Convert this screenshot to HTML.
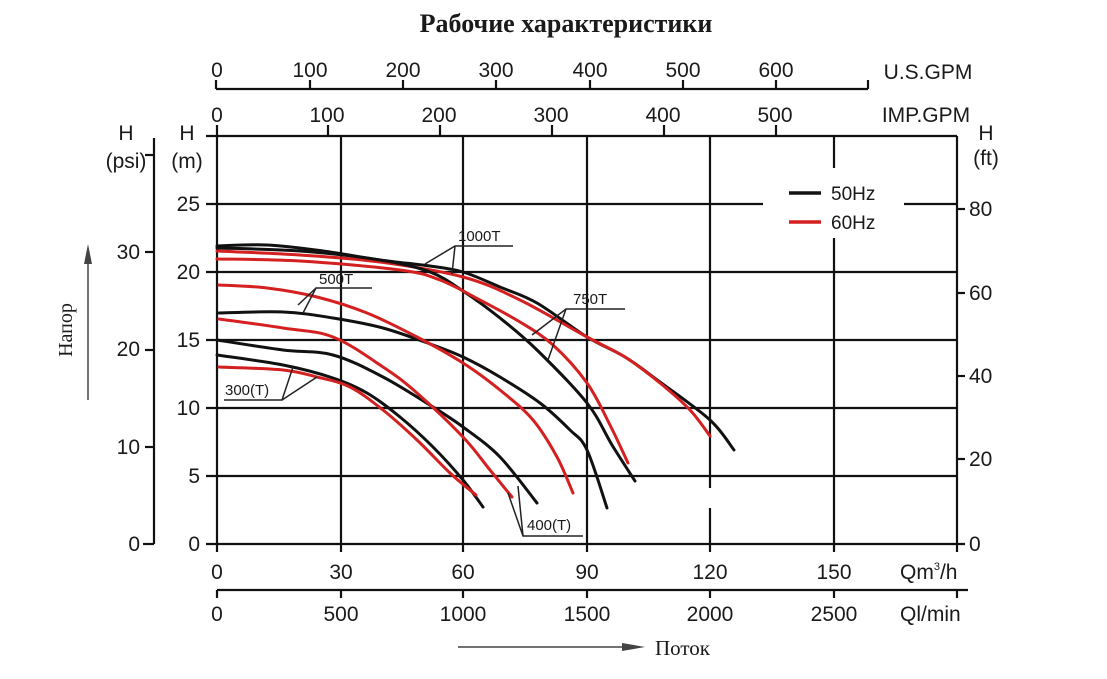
<!DOCTYPE html>
<html><head><meta charset="utf-8"><style>
html,body{margin:0;padding:0;background:#fff;}
svg{display:block;}
text{font-family:"Liberation Sans",Arial,sans-serif;fill:#1a1a1a;}
.s{font-family:"Liberation Serif","DejaVu Serif",serif;}
</style></head><body>
<svg id="sv" width="1107" height="679" viewBox="0 0 1107 679" xmlns="http://www.w3.org/2000/svg">
<text class="s" x="566" y="32" font-size="26" font-weight="bold" text-anchor="middle">Рабочие характеристики</text>

<g stroke="#111" stroke-width="2.2" fill="none">
<line x1="216" y1="89" x2="868" y2="89"/>
<line x1="216" y1="80" x2="216" y2="89"/><line x1="310" y1="80" x2="310" y2="89"/><line x1="403" y1="80" x2="403" y2="89"/><line x1="496" y1="80" x2="496" y2="89"/><line x1="590" y1="80" x2="590" y2="89"/><line x1="683" y1="80" x2="683" y2="89"/><line x1="776" y1="80" x2="776" y2="89"/><line x1="868" y1="80" x2="868" y2="89"/>
</g>
<g font-size="21" text-anchor="middle">
<text x="217" y="77">0</text><text x="310" y="77">100</text><text x="403" y="77">200</text><text x="496" y="77">300</text><text x="590" y="77">400</text><text x="683" y="77">500</text><text x="776" y="77">600</text>
<text x="327" y="122">100</text><text x="439" y="122">200</text><text x="551" y="122">300</text><text x="663" y="122">400</text><text x="775" y="122">500</text><text x="217" y="122">0</text>
</g>
<text x="928" y="79" font-size="21" text-anchor="middle">U.S.GPM</text>
<text x="926" y="122" font-size="21" text-anchor="middle">IMP.GPM</text>
<text x="986" y="140" font-size="21" text-anchor="middle">H</text>
<text x="986" y="165" font-size="21" text-anchor="middle">(ft)</text>
<text x="126" y="140" font-size="21" text-anchor="middle">H</text>
<text x="126" y="168" font-size="21" text-anchor="middle">(psi)</text>
<text x="187" y="140" font-size="21" text-anchor="middle">H</text>
<text x="187" y="168" font-size="21" text-anchor="middle">(m)</text>

<g stroke="#111" stroke-width="2.2" fill="none">
<line x1="206" y1="136" x2="957" y2="136"/>
<line x1="217" y1="125" x2="217" y2="136"/><line x1="328" y1="125" x2="328" y2="136"/><line x1="440" y1="125" x2="440" y2="136"/><line x1="552" y1="125" x2="552" y2="136"/><line x1="664" y1="125" x2="664" y2="136"/><line x1="776" y1="125" x2="776" y2="136"/>
<line x1="217" y1="136" x2="217" y2="552"/>
<line x1="341" y1="136" x2="341" y2="552"/>
<line x1="463" y1="136" x2="463" y2="552"/>
<line x1="587" y1="136" x2="587" y2="552"/>
<line x1="710" y1="136" x2="710" y2="488"/><line x1="710" y1="508" x2="710" y2="552"/>
<line x1="834" y1="136" x2="834" y2="168"/><line x1="834" y1="238" x2="834" y2="552"/>
<line x1="957" y1="136" x2="957" y2="552"/>
<line x1="206" y1="204" x2="763" y2="204"/><line x1="904" y1="204" x2="957" y2="204"/>
<line x1="206" y1="272" x2="957" y2="272"/>
<line x1="206" y1="340" x2="957" y2="340"/>
<line x1="206" y1="408" x2="957" y2="408"/>
<line x1="206" y1="476" x2="957" y2="476"/>
<line x1="206" y1="544" x2="965" y2="544"/>
<line x1="957" y1="209" x2="965" y2="209"/><line x1="957" y1="293" x2="965" y2="293"/><line x1="957" y1="376" x2="965" y2="376"/><line x1="957" y1="459" x2="965" y2="459"/>
<line x1="154" y1="138" x2="154" y2="544"/>
<line x1="143" y1="544" x2="154" y2="544"/><line x1="145" y1="447" x2="154" y2="447"/><line x1="145" y1="350" x2="154" y2="350"/><line x1="145" y1="252" x2="154" y2="252"/><line x1="145" y1="155" x2="154" y2="155"/>
<line x1="217" y1="590" x2="968" y2="590"/>
<line x1="217" y1="590" x2="217" y2="598"/><line x1="341" y1="590" x2="341" y2="598"/><line x1="463" y1="590" x2="463" y2="598"/><line x1="587" y1="590" x2="587" y2="598"/><line x1="710" y1="590" x2="710" y2="598"/><line x1="834" y1="590" x2="834" y2="598"/><line x1="957" y1="590" x2="957" y2="598"/>
</g>
<g font-size="21" text-anchor="end">
<text x="200" y="211">25</text><text x="200" y="279">20</text><text x="200" y="347">15</text><text x="200" y="415">10</text><text x="200" y="483">5</text><text x="200" y="551">0</text>
<text x="140" y="259">30</text><text x="140" y="356">20</text><text x="140" y="454">10</text><text x="140" y="551">0</text>
</g>
<g font-size="21">
<text x="969" y="216">80</text><text x="969" y="300">60</text><text x="969" y="383">40</text><text x="969" y="466">20</text><text x="969" y="551">0</text>
</g>
<g font-size="21" text-anchor="middle">
<text x="217" y="579">0</text><text x="341" y="579">30</text><text x="463" y="579">60</text><text x="587" y="579">90</text><text x="710" y="579">120</text><text x="834" y="579">150</text>
<text x="217" y="621">0</text><text x="341" y="621">500</text><text x="463" y="621">1000</text><text x="587" y="621">1500</text><text x="710" y="621">2000</text><text x="834" y="621">2500</text>
</g>
<text x="900" y="579" font-size="21">Qm<tspan font-size="11" dy="-9">3</tspan><tspan dy="9">/h</tspan></text>
<text x="900" y="621" font-size="21">Ql/min</text>

<line x1="789" y1="193" x2="821" y2="193" stroke="#111" stroke-width="3.5"/>
<line x1="789" y1="222" x2="821" y2="222" stroke="#d42020" stroke-width="3.5"/>
<text x="831" y="200" font-size="19">50Hz</text>
<text x="831" y="229" font-size="19">60Hz</text>

<g id="curves" fill="none" stroke-width="3" stroke-linecap="round" stroke-linejoin="round">
<path stroke="#111" data-p="217,246 267,245 323,251 380,260 430,266 463,272 500,287 537,303 587,337 625,357 660,382 710,420 734,450"/>
<path stroke="#d42020" data-p="217,251 300,255 380,262 463,277 520,300 587,337 625,357 660,383 690,410 710,436"/>
<path stroke="#111" data-p="217,248 300,251 380,260 430,272 463,291 500,318 537,350 587,403 612,445 635,481"/>
<path stroke="#d42020" data-p="217,259 300,261 400,270 440,280 480,300 520,322 553,345 587,383 610,425 628,463"/>
<path stroke="#111" data-p="219,313 283,312 333,318 383,328 433,345 463,357 500,377 540,403 570,430 587,450 607,508"/>
<path stroke="#d42020" data-p="219,285 267,288 317,297 367,313 417,337 463,363 500,390 533,420 557,457 573,493"/>
<path stroke="#111" data-p="217,340 283,350 333,355 383,377 433,407 463,427 500,457 537,503"/>
<path stroke="#d42020" data-p="219,319 283,328 333,337 383,367 417,393 463,437 490,470 512,497"/>
<path stroke="#111" data-p="217,355 283,365 333,378 367,393 400,417 433,447 463,480 483,507"/>
<path stroke="#d42020" data-p="219,367 283,370 317,377 350,387 383,410 417,440 450,473 476,495"/>
</g>

<g stroke="#222" stroke-width="1.5" fill="none">
<polyline points="513,246 455,246 425,264"/><line x1="455" y1="246" x2="452" y2="274"/>
<polyline points="372,288 316,288 303,313"/><line x1="316" y1="288" x2="298" y2="305"/>
<polyline points="625,309 566,309 532,335"/><line x1="566" y1="309" x2="548" y2="360"/>
<polyline points="224,400 282,400 293,367"/><line x1="282" y1="400" x2="317" y2="377"/>
<polyline points="583,536 523,536 508,493"/><line x1="523" y1="536" x2="518" y2="486"/>
</g>
<g font-size="15">
<text x="458" y="241">1000T</text>
<text x="319" y="284">500T</text>
<text x="573" y="304">750T</text>
<text x="225" y="395">300(T)</text>
<text x="527" y="530">400(T)</text>
</g>

<text class="s" x="72" y="330" font-size="20" text-anchor="middle" transform="rotate(-90 72 330)">Напор</text>
<line x1="88" y1="400" x2="88" y2="262" stroke="#444" stroke-width="1.5"/>
<polygon points="88,244 84,264 92,264" fill="#444"/>
<line x1="458" y1="647" x2="630" y2="647" stroke="#444" stroke-width="1.5"/>
<polygon points="645,647 622,643 622,651" fill="#444"/>
<text class="s" x="655" y="655" font-size="21">Поток</text>
</svg>
<script>
document.querySelectorAll('#curves path').forEach(function(p){
  var pts=p.getAttribute('data-p').split(' ').map(function(s){return s.split(',').map(Number);});
  var d='M'+pts[0][0]+','+pts[0][1];
  for(var i=0;i<pts.length-1;i++){
    var p0=pts[i-1]||pts[i],p1=pts[i],p2=pts[i+1],p3=pts[i+2]||p2;
    var c1x=p1[0]+(p2[0]-p0[0])/6,c1y=p1[1]+(p2[1]-p0[1])/6;
    var c2x=p2[0]-(p3[0]-p1[0])/6,c2y=p2[1]-(p3[1]-p1[1])/6;
    d+=' C'+c1x.toFixed(1)+','+c1y.toFixed(1)+' '+c2x.toFixed(1)+','+c2y.toFixed(1)+' '+p2[0]+','+p2[1];
  }
  p.setAttribute('d',d);
  p.removeAttribute('data-p');
});
</script>
</body></html>
